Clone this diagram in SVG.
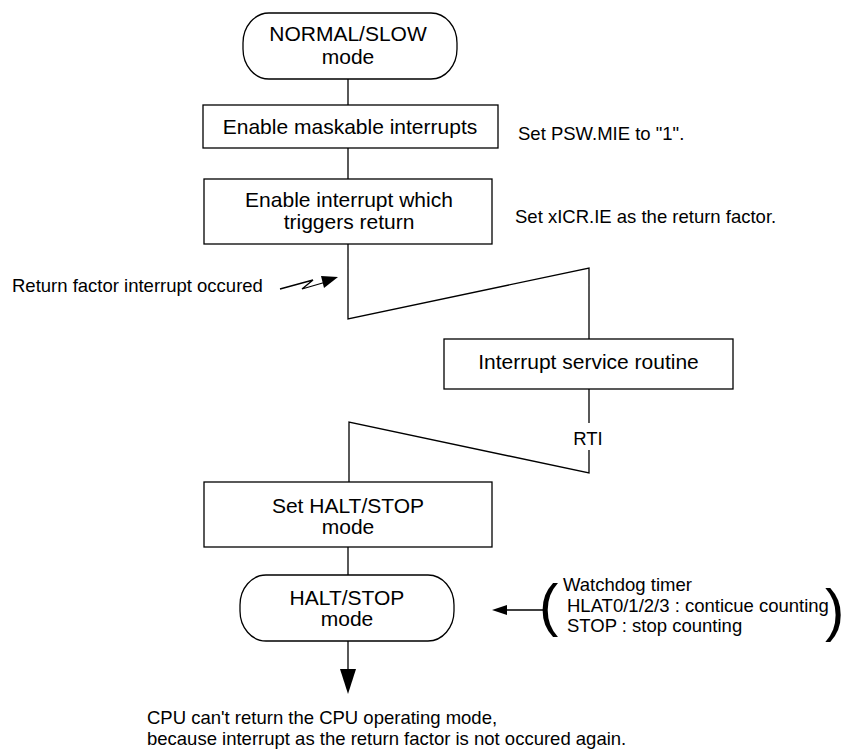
<svg xmlns="http://www.w3.org/2000/svg" width="847" height="749" viewBox="0 0 847 749">
<defs>
<style>
.s{fill:#fff;stroke:#000;stroke-width:1.3}
.l{fill:none;stroke:#000;stroke-width:1.3}
.t{font-family:"Liberation Sans",Arial,sans-serif;font-size:21px;fill:#000;text-anchor:middle}
.n{font-family:"Liberation Sans",Arial,sans-serif;font-size:18.5px;fill:#000}
.p{font-family:"Liberation Sans",Arial,sans-serif;font-size:58px;fill:#000}
</style>
</defs>
<rect width="847" height="749" fill="#fff"/>
<g id="connectors">
<path class="l" d="M348 79V105M348 148V179M348 244V319L589 268V339M589 389V423M589 450V473L349 422V482M348 547V575M348 641V672"/>
<polygon points="340,669 356,669 348,694" fill="#000"/>
<path class="l" d="M280 289L313 280L302 289L326 282"/>
<polygon points="321,276 338,277 324,288" fill="#000"/>
<path class="l" d="M543 610H505"/>
<polygon points="507,605 492,610 507,615" fill="#000"/>
</g>
<g id="n1">
<rect class="s" x="243" y="13" width="214" height="66" rx="26" ry="30"/>
<text class="t" x="348" y="41">NORMAL/SLOW</text>
<text class="t" x="348" y="64">mode</text>
</g>
<g id="n2">
<rect class="s" x="203" y="105" width="295" height="43"/>
<text class="t" x="350" y="134">Enable maskable interrupts</text>
</g>
<text class="n" x="518" y="140">Set PSW.MIE to "1".</text>
<g id="n3">
<rect class="s" x="204" y="179" width="288" height="65"/>
<text class="t" x="349" y="207">Enable interrupt which</text>
<text class="t" x="349" y="229">triggers return</text>
</g>
<text class="n" x="515" y="223">Set xICR.IE as the return factor.</text>
<text class="n" x="12" y="292">Return factor interrupt occured</text>
<g id="n4">
<rect class="s" x="444" y="339" width="289" height="50"/>
<text class="t" x="588.5" y="369">Interrupt service routine</text>
</g>
<text class="n" x="588" y="445" text-anchor="middle">RTI</text>
<g id="n5">
<rect class="s" x="204" y="482" width="288" height="65"/>
<text class="t" x="348" y="513">Set HALT/STOP</text>
<text class="t" x="348" y="534">mode</text>
</g>
<g id="n6">
<rect class="s" x="240" y="575" width="214" height="66" rx="26" ry="30"/>
<text class="t" x="347" y="605">HALT/STOP</text>
<text class="t" x="347" y="626">mode</text>
</g>
<g id="n7">
<text class="p" x="539" y="625">(</text>
<text class="n" x="563" y="591">Watchdog timer</text>
<text class="n" x="567" y="612">HLAT0/1/2/3 : conticue counting</text>
<text class="n" x="567" y="632">STOP : stop counting</text>
<text class="p" x="825" y="630">)</text>
</g>
<text class="n" x="147" y="724">CPU can't return the CPU operating mode,</text>
<text class="n" x="147" y="745">because interrupt as the return factor is not occured again.</text>
</svg>
